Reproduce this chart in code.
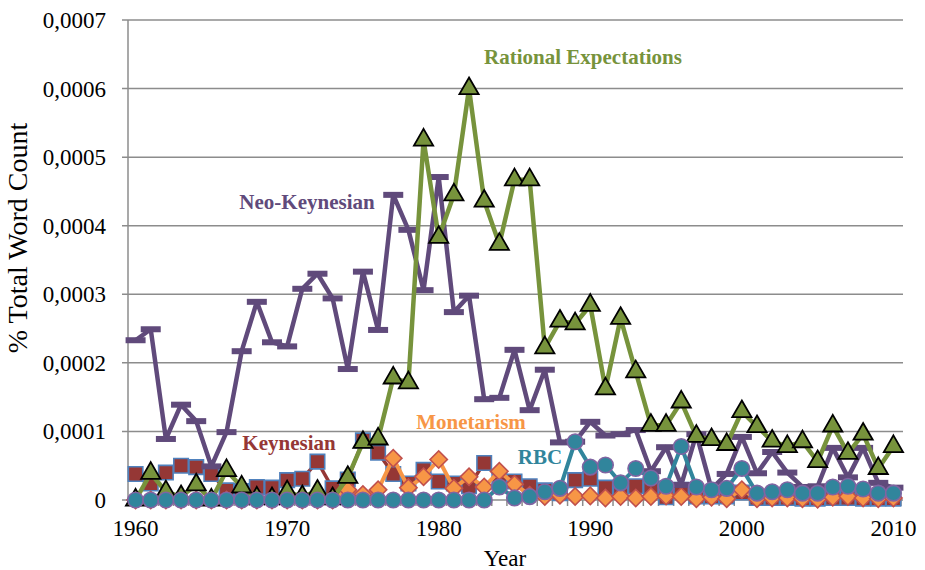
<!DOCTYPE html>
<html>
<head>
<meta charset="utf-8">
<script src="https://cdn.jsdelivr.net/npm/d3@7"></script>
<style>
  body { margin: 0; background: #fff; }
  svg { font-family: 'Liberation Serif', 'Times New Roman', serif; }
</style>
</head>
<body>
<div id="chart"></div>
<script>
// data (values are in units of 0.0001 % of total word count)
const years = d3.range(1960, 2011)

const keynesian = [
  0.38, 0.24, 0.40, 0.50, 0.48, 0.38, 0.14, 0.13, 0.19, 0.18,
  0.29, 0.31, 0.56, 0.17, 0.30, 0.87, 0.69, 0.38, 0.24, 0.44,
  0.27, 0.24, 0.20, 0.54, 0.30, 0.27, 0.20, 0.14, 0.10, 0.29,
  0.31, 0.18, 0.15, 0.20, 0.16, 0.04, 0.15, 0.05, 0.05, 0.05,
  0.11, 0.03, 0.03, 0.03, 0.02, 0.02, 0.03, 0.03, 0.02, 0.02,
  0.02,
]

const monetarism = [
  0, 0, 0, 0, 0, 0, 0, 0, 0, 0,
  0, 0, 0, 0, 0.15, 0.08, 0.15, 0.61, 0.18, 0.34,
  0.59, 0.17, 0.34, 0.19, 0.42, 0.23, 0.07, 0.05, 0.07, 0.05,
  0.06, 0.03, 0.05, 0.03, 0.05, 0.06, 0.05, 0.02, 0.04, 0.02,
  0.15, 0.02, 0.03, 0.03, 0.02, 0.01, 0.04, 0.05, 0.03, 0.02,
  0.03,
]

const rbc = [
  0, 0, 0, 0, 0, 0, 0, 0, 0, 0,
  0, 0, 0, 0, 0, 0, 0, 0, 0, 0,
  0, 0, 0, 0, 0.19, 0.03, 0.05, 0.12, 0.17, 0.85,
  0.48, 0.51, 0.25, 0.46, 0.32, 0.20, 0.78, 0.19, 0.15, 0.17,
  0.46, 0.10, 0.12, 0.15, 0.10, 0.10, 0.19, 0.20, 0.16, 0.10,
  0.10,
]

const neoKeynesian = [
  2.33, 2.49, 0.89, 1.39, 1.15, 0.49, 0.99, 2.17, 2.89, 2.30,
  2.24, 3.08, 3.30, 2.94, 1.91, 3.33, 2.48, 4.45, 3.94, 3.06,
  4.71, 2.74, 2.98, 1.47, 1.49, 2.19, 1.31, 1.90, 0.84, 0.85,
  1.14, 0.94, 0.96, 1.02, 0.42, 0.77, 0.22, 0.96, 0.16, 0.38,
  0.92, 0.39, 0.70, 0.40, 0.19, 0.20, 0.76, 0.33, 0.76, 0.25,
  0.18,
]

const rationalExpectations = [
  0, 0.39, 0.12, 0.05, 0.22, 0, 0.43, 0.19, 0.03, 0.02,
  0.12, 0.05, 0.13, 0.02, 0.33, 0.84, 0.89, 1.78, 1.71, 5.25,
  3.83, 4.45, 6.00, 4.36, 3.73, 4.67, 4.67, 2.22, 2.61, 2.57,
  2.84, 1.62, 2.65, 1.87, 1.09, 1.09, 1.43, 0.93, 0.88, 0.81,
  1.29, 1.07, 0.86, 0.78, 0.85, 0.56, 1.08, 0.68, 0.96, 0.46,
  0.78,
]

const yTicks = [0, 1, 2, 3, 4, 5, 6, 7]
const yTickLabels = ['0', '0,0001', '0,0002', '0,0003', '0,0004', '0,0005', '0,0006', '0,0007']
const xTickLabels = ['1960', '1970', '1980', '1990', '2000', '2010']

// series styles, drawn in this order
const series = [
  { name: 'Keynesian', values: keynesian, line: '#953735', width: 3.5, marker: 'square', fill: '#953735', stroke: '#4f81bd' },
  { name: 'Monetarism', values: monetarism, line: '#f79646', width: 4, marker: 'diamond', fill: '#f79646', stroke: '#c0504d' },
  { name: 'Neo-Keynesian', values: neoKeynesian, line: '#604a7b', width: 4.5, marker: 'dash', fill: '#604a7b', stroke: 'none' },
  { name: 'Rational Expectations', values: rationalExpectations, line: '#77933c', width: 4.5, marker: 'triangle', fill: '#77933c', stroke: '#000' },
  { name: 'RBC', values: rbc, line: '#31859c', width: 4, marker: 'circle', fill: '#31859c', stroke: '#8064a2' },
]

const labels = [
  { text: 'Rational Expectations', color: '#77933c', x: 583, y: 64 },
  { text: 'Neo-Keynesian', color: '#604a7b', x: 307, y: 209 },
  { text: 'Keynesian', color: '#953735', x: 289, y: 450 },
  { text: 'Monetarism', color: '#f79646', x: 471, y: 429 },
  { text: 'RBC', color: '#31859c', x: 540, y: 464 },
]

// size
const W = 925
const H = 570
const margin = { left: 128, right: 24, top: 20, bottom: 70 }

// scale
const band = d3
  .scaleBand()
  .domain(years)
  .range([margin.left, W - margin.right])

const x = d => band(d) + band.bandwidth() / 2

const y = d3
  .scaleLinear()
  .domain([0, 7])
  .range([H - margin.bottom, margin.top])

const svg = d3
  .select('#chart')
  .append('svg')
  .attr('width', W)
  .attr('height', H)

// gridlines
svg
  .append('g')
  .selectAll('line')
  .data(yTicks)
  .join('line')
  .attr('x1', margin.left - 6)
  .attr('x2', W - margin.right + 2)
  .attr('y1', d => y(d))
  .attr('y2', d => y(d))
  .attr('stroke', '#8c8c8c')
  .attr('stroke-width', 1.5)

// y-axis line
svg
  .append('line')
  .attr('x1', margin.left)
  .attr('x2', margin.left)
  .attr('y1', y(7))
  .attr('y2', y(0))
  .attr('stroke', '#8c8c8c')
  .attr('stroke-width', 1.5)

// x-axis ticks at category boundaries
svg
  .append('g')
  .selectAll('line')
  .data(years.concat([2011]))
  .join('line')
  .attr('x1', d => (d === 2011 ? band.range()[1] : band(d)))
  .attr('x2', d => (d === 2011 ? band.range()[1] : band(d)))
  .attr('y1', y(0))
  .attr('y2', y(0) + 6)
  .attr('stroke', '#8c8c8c')
  .attr('stroke-width', 1.5)

// y tick labels
svg
  .append('g')
  .selectAll('text')
  .data(yTicks)
  .join('text')
  .attr('x', 106)
  .attr('y', d => y(d) + 8)
  .attr('text-anchor', 'end')
  .attr('font-size', '23px')
  .text((d, i) => yTickLabels[i])

// x tick labels
svg
  .append('g')
  .selectAll('text')
  .data(xTickLabels)
  .join('text')
  .attr('x', d => x(+d))
  .attr('y', 536)
  .attr('text-anchor', 'middle')
  .attr('font-size', '23px')
  .text(d => d)

// axis titles
svg
  .append('text')
  .attr('x', 505)
  .attr('y', 566)
  .attr('text-anchor', 'middle')
  .attr('font-size', '23px')
  .text('Year')

svg
  .append('text')
  .attr('text-anchor', 'middle')
  .attr('font-size', '28px')
  .attr('transform', 'translate(27, 238) rotate(-90)')
  .text('% Total Word Count')

// series
const line = d3
  .line()
  .x(d => x(d.year))
  .y(d => y(d.value))

const symbols = {
  square: d3.symbol(d3.symbolSquare, 210),
  diamond: d3.symbol(d3.symbolSquare, 150),
  triangle: d3.symbol(d3.symbolTriangle, 160),
  circle: d3.symbol(d3.symbolCircle, 190),
}

series.forEach(s => {
  const pts = years.map((yr, i) => ({ year: yr, value: s.values[i] }))
  const g = svg.append('g')

  g.append('path')
    .datum(pts)
    .attr('d', line)
    .attr('fill', 'none')
    .attr('stroke', s.line)
    .attr('stroke-width', s.width)
    .attr('stroke-linejoin', 'round')

  if (s.marker === 'dash') {
    g.selectAll('rect')
      .data(pts)
      .join('rect')
      .attr('x', d => x(d.year) - 10)
      .attr('y', d => y(d.value) - 3)
      .attr('width', 20)
      .attr('height', 6)
      .attr('fill', s.fill)
  } else {
    g.selectAll('path.marker')
      .data(pts)
      .join('path')
      .attr('class', 'marker')
      .attr('d', symbols[s.marker])
      .attr('transform', d =>
        `translate(${x(d.year)}, ${y(d.value)})` + (s.marker === 'diamond' ? ' rotate(45)' : ''),
      )
      .attr('fill', s.fill)
      .attr('stroke', s.stroke)
      .attr('stroke-width', s.marker === 'triangle' ? 1.8 : 1.6)
  }
})

// series labels
svg
  .append('g')
  .selectAll('text')
  .data(labels)
  .join('text')
  .attr('x', d => d.x)
  .attr('y', d => d.y)
  .attr('text-anchor', 'middle')
  .attr('font-size', '21px')
  .attr('font-weight', 'bold')
  .attr('fill', d => d.color)
  .text(d => d.text)
</script>
</body>
</html>
